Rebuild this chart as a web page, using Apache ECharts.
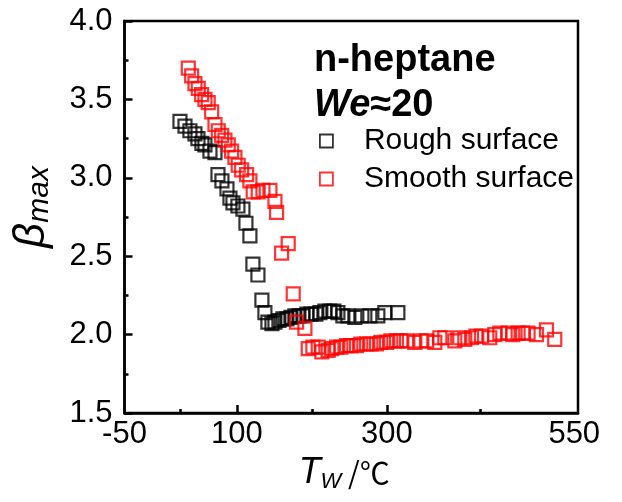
<!DOCTYPE html>
<html>
<head>
<meta charset="utf-8">
<title>beta max vs Tw</title>
<script src="https://cdn.jsdelivr.net/npm/echarts@6/dist/echarts.min.js"></script>
<style>
  html, body { margin: 0; padding: 0; background: #fff; }
  #main { width: 622px; height: 502px; }
</style>
</head>
<body>
<div id="main"></div>
<script>
// rough surface (black)
var roughT = [24.0, 30.7, 37.3, 44.0, 48.0, 53.3, 57.3, 64.0, 70.7, 74.7, 80.0, 86.7, 90.7, 94.7, 101.3, 108.0,
  112.0, 117.3, 121.3, 128.0, 133.3, 137.3, 141.3, 146.7, 150.7, 156.0, 161.3, 166.7, 172.0, 177.3, 182.7,
  188.0, 193.3, 198.7, 205.3, 210.7, 217.3, 224.0, 229.3, 234.7, 241.3, 248.0, 257.3, 266.7, 277.3, 288.0,
  297.3, 314.7];
var roughBeta = [3.36, 3.33, 3.30, 3.28, 3.25, 3.22, 3.21, 3.17, 3.16, 3.02, 2.98, 2.93, 2.87, 2.84, 2.82, 2.80,
  2.71, 2.63, 2.45, 2.38, 2.22, 2.14, 2.08, 2.07, 2.08, 2.09, 2.10, 2.10, 2.11, 2.12, 2.12,
  2.12, 2.13, 2.13, 2.13, 2.14, 2.15, 2.15, 2.15, 2.14, 2.12, 2.12, 2.11, 2.12, 2.12, 2.12,
  2.14, 2.14];

// smooth surface (red)
var smoothT = [35.1, 39.6, 44.0, 48.4, 52.9, 57.3, 61.7, 66.3, 70.7, 75.1, 79.6, 84.0, 88.4, 92.9, 97.3, 101.7,
  106.3, 112.9, 117.3, 121.7, 128.4, 134.7, 144.0, 150.7, 152.9, 159.6, 168.4, 175.1, 179.6, 190.7,
  195.1, 201.3, 208.4, 213.3, 221.7, 226.7, 233.0, 238.7, 246.3, 252.0, 259.6, 265.3, 273.0, 278.7,
  286.3, 292.0, 299.6, 305.3, 312.9, 318.7, 326.3, 337.3, 345.3, 353.0, 364.0, 370.7, 377.3, 390.7,
  397.3, 404.0, 413.0, 418.7, 426.3, 437.3, 444.0, 450.7, 461.7, 468.0, 475.1, 481.3, 488.4, 499.6,
  512.9, 524.0];
var smoothBeta = [3.70, 3.65, 3.60, 3.57, 3.53, 3.50, 3.48, 3.42, 3.34, 3.30, 3.27, 3.24, 3.21, 3.17, 3.13, 3.08,
  3.05, 3.02, 2.98, 2.91, 2.91, 2.92, 2.92, 2.85, 2.78, 2.52, 2.58, 2.26, 2.08, 2.04,
  1.91, 1.92, 1.92, 1.89, 1.90, 1.91, 1.92, 1.92, 1.93, 1.93, 1.93, 1.94, 1.94, 1.94,
  1.94, 1.95, 1.95, 1.96, 1.96, 1.96, 1.96, 1.95, 1.96, 1.96, 1.95, 1.98, 1.98, 1.96,
  1.98, 1.97, 1.98, 1.99, 1.99, 1.98, 2.00, 2.01, 2.01, 2.00, 2.01, 2.01, 2.01, 2.00,
  2.03, 1.97];

var xLabels = [-50, 100, 300, 550];
var xMajorTicks = [100, 300];
var xMinorTicks = [25, 200, 425];

function pairs(xs, ys) {
  return xs.map(function (x, i) { return [x, ys[i]]; });
}

var font = 'Liberation Sans, Arial, sans-serif';
var chart = echarts.init(document.getElementById('main'));

var option = {
  animation: false,
  backgroundColor: '#fff',
  grid: {
    left: 124.5, right: 44, top: 21, bottom: 89,
    show: true, borderColor: '#000', borderWidth: 2.5
  },
  title: {
    left: 309, top: 33,
    text: '{a|n-heptane}\n{i|We}{a|≈20}',
    textStyle: {
      rich: {
        a: { fontFamily: font, fontWeight: 'bold', fontSize: 38, color: '#000', lineHeight: 45 },
        i: { fontFamily: font, fontWeight: 'bold', fontStyle: 'italic', fontSize: 38, color: '#000', lineHeight: 45 }
      }
    }
  },
  legend: {
    orient: 'vertical',
    left: 314, top: 121,
    itemWidth: 13, itemHeight: 13, itemGap: 8,
    textStyle: { fontFamily: font, fontSize: 30, color: '#000', lineHeight: 30, padding: [0, 0, 0, 26] },
    itemStyle: { borderWidth: 1.8 },
    data: ['Rough surface', 'Smooth surface']
  },
  xAxis: [{
    type: 'value', min: -50, max: 555,
    name: '{t|T}{w|W}{c| /℃}',
    nameLocation: 'middle', nameGap: 38,
    nameTextStyle: {
      padding: [0, 14, 0, 0],
      rich: {
        t: { fontFamily: font, fontStyle: 'italic', fontSize: 36, color: '#000' },
        w: { fontFamily: font, fontStyle: 'italic', fontSize: 22, color: '#000', padding: [18, 0, 0, 0] },
        c: { fontFamily: 'Noto Sans CJK SC, ' + font, fontSize: 30, color: '#000' }
      }
    },
    axisLine: { show: true, onZero: false, lineStyle: { color: '#000', width: 2.5 } },
    axisTick: { show: true, inside: true, length: 8, customValues: xMajorTicks, lineStyle: { color: '#000', width: 2.5 } },
    axisLabel: { customValues: xLabels, fontFamily: font, fontSize: 31, color: '#000', margin: 6 },
    splitLine: { show: false }
  }, {
    type: 'value', min: -50, max: 555, position: 'bottom',
    axisLine: { show: false, onZero: false },
    axisTick: { show: true, inside: true, length: 4, customValues: xMinorTicks, lineStyle: { color: '#000', width: 2.5 } },
    axisLabel: { show: false },
    splitLine: { show: false }
  }],
  yAxis: {
    type: 'value', min: 1.5, max: 4.0, interval: 0.5,
    name: '{b|β}{s|max}',
    nameLocation: 'middle', nameGap: 70,
    nameTextStyle: {
      padding: [0, 0, 0, 20],
      rich: {
        b: { fontFamily: font, fontStyle: 'italic', fontSize: 44, color: '#000' },
        s: { fontFamily: font, fontStyle: 'italic', fontSize: 30, color: '#000', padding: [16, 0, 0, 0] }
      }
    },
    axisLine: { show: true, onZero: false, lineStyle: { color: '#000', width: 2.5 } },
    axisTick: { show: true, inside: true, length: 8, lineStyle: { color: '#000', width: 2.5 } },
    minorTick: { show: true, splitNumber: 2, length: 4, lineStyle: { color: '#000', width: 2.5 } },
    axisLabel: {
      fontFamily: font, fontSize: 31, color: '#000', margin: 12,
      formatter: function (v) { return v.toFixed(1); }
    },
    splitLine: { show: false }
  },
  series: [{
    name: 'Rough surface',
    type: 'scatter',
    symbol: 'rect', symbolSize: 13,
    itemStyle: { color: 'rgba(0,0,0,0)', borderColor: '#000', borderWidth: 2.2 },
    data: pairs(roughT, roughBeta)
  }, {
    name: 'Smooth surface',
    type: 'scatter',
    symbol: 'rect', symbolSize: 13,
    itemStyle: { color: 'rgba(0,0,0,0)', borderColor: '#ff0000', borderWidth: 2.2 },
    data: pairs(smoothT, smoothBeta)
  }]
};

chart.setOption(option);
</script>
</body>
</html>
